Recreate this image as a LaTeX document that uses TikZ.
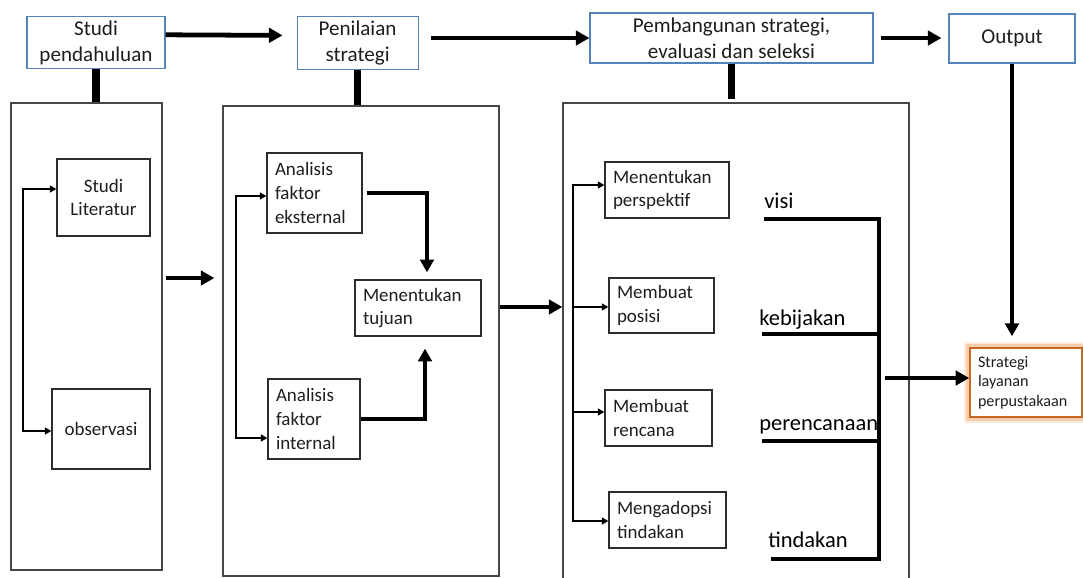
\documentclass[tikz,border=0pt]{standalone}
\usepackage{fontspec}
\setmainfont{Carlito}
\usetikzlibrary{positioning,arrows.meta}
\definecolor{cHead}{RGB}{84,130,186}
\definecolor{cPanel}{RGB}{70,70,70}
\definecolor{cBox}{RGB}{45,45,45}
\definecolor{cOrange}{RGB}{196,104,36}
\definecolor{cGlow}{RGB}{244,160,90}
\definecolor{cText}{RGB}{30,30,30}
\tikzset{
  head/.style={
    rectangle, draw=cHead, line width=0.8pt, fill=white, align=center,
    text=cText, font=\fontsize{15}{18.5}\selectfont, inner sep=1mm,
  },
  panel/.style={rectangle, draw=cPanel, line width=0.9pt},
  item/.style={
    rectangle, draw=cBox, line width=0.9pt, align=left, inner xsep=0.2cm,
    text=cText, font=\fontsize{13.5}{16.8}\selectfont,
  },
  itemC/.style={item, align=center},
  term/.style={text=black, font=\fontsize{16}{18}\selectfont, inner sep=0pt},
  result/.style={
    rectangle, draw=cOrange, line width=1.1pt, fill=white, align=left,
    inner xsep=0.2cm, text=cText, font=\fontsize{11.5}{14}\selectfont,
    preaction={draw=cGlow, line width=9pt, draw opacity=0.2},
    preaction={draw=cGlow, line width=5pt, draw opacity=0.4},
  },
  barr/.style={-{Triangle[length=3.4mm,width=3.6mm]}, line width=3.4pt},
  marr/.style={-{Triangle[length=3.2mm,width=3.4mm]}, line width=2.6pt},
  varr/.style={-{Triangle[length=3.2mm,width=3.4mm]}, line width=2.2pt},
  sarr/.style={{Triangle[length=1.6mm,width=1.7mm]}-{Triangle[length=1.6mm,width=1.7mm]}, line width=1.4pt},
  sarrOne/.style={-{Triangle[length=1.6mm,width=1.7mm]}, line width=1.4pt},
  stub/.style={line width=5pt},
  bline/.style={line width=2.6pt},
}

\begin{document}
\begin{tikzpicture}

\useasboundingbox (0,0) rectangle (27.075,-14.425);

% ===== top row =====
\node[head, minimum width=3.45cm, minimum height=1.28cm]
  (pend) at (2.4,-1.06) {Studi\\pendahuluan};
\node[head, minimum width=3.025cm, minimum height=1.3cm]
  (nilai) at (8.94,-1.075) {Penilaian\\strategi};
\node[head, minimum width=7.075cm, minimum height=1.25cm]
  (bangun) at (18.2875,-0.95) {Pembangunan strategi,\\evaluasi dan seleksi};
\node[head, minimum width=3.15cm, minimum height=1.225cm]
  (out) at (25.3,-0.9625) {Output};

% ===== panels =====
\node[panel, minimum width=3.775cm, minimum height=11.675cm] (pA) at (2.1625,-8.4125) {};
\node[panel, minimum width=6.9cm, minimum height=11.75cm] (pB) at (9.025,-8.525) {};
\node[panel, minimum width=8.65cm, minimum height=11.9cm] (pC) at (18.4,-8.525) {};

% ===== panel A =====
\node[itemC, minimum width=2.325cm, minimum height=1.925cm]
  (lit) at (2.5875,-4.9375) {Studi\\Literatur};
\node[itemC, minimum width=2.45cm, minimum height=2.0cm]
  (obs) at (2.525,-10.725) {observasi};

% ===== panel B =====
\node[item, text width=1.975cm, minimum height=2.0cm]
  (eks) at (7.8625,-4.825) {Analisis\\faktor\\eksternal};
\node[item, text width=1.9cm, minimum height=2.0cm]
  (int) at (7.85,-10.475) {Analisis\\faktor\\internal};
\node[item, text width=2.75cm, minimum height=1.4cm]
  (tuj) at (10.45,-7.7) {Menentukan\\tujuan};

% ===== panel C =====
\node[item, text width=2.7cm, minimum height=1.4cm]
  (persp) at (16.675,-4.75) {Menentukan\\perspektif};
\node[item, text width=2.225cm, minimum height=1.375cm]
  (posisi) at (16.5375,-7.6375) {Membuat\\posisi};
\node[item, text width=2.275cm, minimum height=1.4cm]
  (rencana) at (16.4625,-10.45) {Membuat\\rencana};
\node[item, text width=2.525cm, minimum height=1.4cm]
  (adopsi) at (16.6875,-13.0) {Mengadopsi\\tindakan};

\node[term, anchor=base west] (tVisi) at (19.1,-5.2) {visi};
\node[term, anchor=base west] (tBijak) at (18.975,-8.125) {kebijakan};
\node[term, anchor=base west] (tRenc) at (18.975,-10.75) {perencanaan};
\node[term, anchor=base west] (tTind) at (19.2,-13.675) {tindakan};

% ===== result =====
\node[result, text width=2.4cm, minimum height=1.725cm]
  (strat) at (25.65,-9.5625) {Strategi\\layanan\\perpustakaan};

% ===== top arrows and stubs =====
\draw[barr] ([yshift=0.19cm]pend.east) -- ([yshift=0.19cm,xshift=-0.35cm]nilai.west);
\draw[barr, shorten <=0.3cm] (nilai.east |- bangun.west) -- (bangun.west);
\draw[barr, shorten <=0.175cm, shorten >=0.175cm] (bangun.east) -- (bangun.east -| out.west);

\draw[stub] (pend.south) -- (pend.south |- pA.north);
\draw[stub] (nilai.south) -- (nilai.south |- pB.north);
\draw[stub] (bangun.south) -- ([yshift=0.075cm]bangun.south |- pC.north);

% ===== panel to panel =====
\coordinate (mAB) at (0,-6.95);
\coordinate (mBC) at (0,-7.675);
\draw[barr, shorten <=0.075cm, shorten >=0.2cm] (pA.east |- mAB) -- (pB.west |- mAB);
\draw[barr] (pB.east |- mBC) -- (pC.west |- mBC);

% ===== branches =====
\coordinate (jA1) at (0.575,-4.725);
\coordinate (jA2) at (0.575,-10.775);
\draw[sarr] (jA1 -| lit.west) -- (jA1) -- (jA2) -- (jA2 -| obs.west);

\coordinate (jB1) at (5.9,-4.9);
\coordinate (jB2) at (5.9,-10.95);
\draw[sarr] (jB1 -| eks.west) -- (jB1) -- (jB2) -- (jB2 -| int.west);

\draw[marr, shorten <=0.1cm, shorten >=0.175cm] (eks.east) -| ([xshift=0.225cm]tuj.north);
\draw[marr, shorten >=0.3cm] (int.east) -| ([xshift=0.175cm]tuj.south);

\coordinate (jC1) at (14.325,-4.625);
\coordinate (jC2) at (14.325,-7.675);
\coordinate (jC3) at (14.325,-10.3);
\coordinate (jC4) at (14.325,-13.025);
\draw[sarr] (jC1 -| persp.west) -- (jC1) -- (jC4) -- (jC4 -| adopsi.west);
\draw[sarrOne] (jC2) -- (jC2 -| posisi.west);
\draw[sarrOne] (jC3) -- (jC3 -| rencana.west);

% ===== bracket of terms =====
\coordinate (k1) at (21.975,-5.475);
\coordinate (k2) at (21.975,-8.35);
\coordinate (k3) at (21.975,-11.025);
\coordinate (k4) at (21.975,-13.975);
\draw[bline] (tVisi.west |- k1) -- (k1);
\draw[bline] ([xshift=2pt]tBijak.west |- k2) -- (k2);
\draw[bline] ([xshift=2pt]tRenc.west |- k3) -- (k3);
\draw[bline] ([xshift=2pt]tTind.west |- k4) -- ([xshift=1.5pt]k4);
\draw[line width=3pt] ([yshift=1.3pt]k1) -- ([yshift=-1.3pt]k4);

\coordinate (kOut) at (22.125,-9.45);
\draw[barr] (kOut) -- (kOut -| strat.west);
\draw[varr, shorten >=0.275cm] (out.south) -- (out.south |- strat.north);

\end{tikzpicture}
\end{document}
